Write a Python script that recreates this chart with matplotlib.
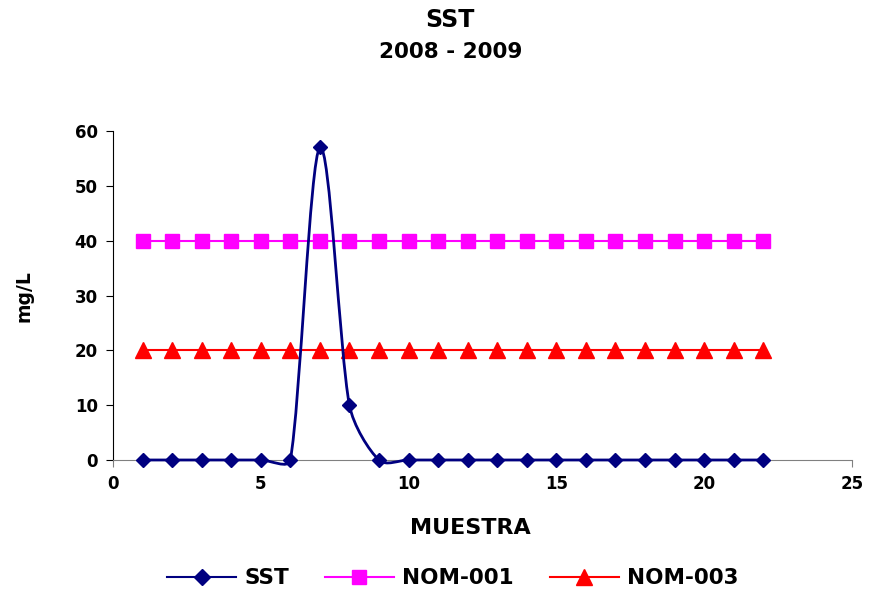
import matplotlib
matplotlib.use("Agg")
import matplotlib.pyplot as plt
import numpy as np
from matplotlib.path import Path
from matplotlib.patches import PathPatch
from matplotlib.lines import Line2D

plt.rcParams['font.family'] = ['DejaVu Sans']
plt.rcParams['font.weight'] = 'bold'

muestra = list(range(1, 23))
sst = [0, 0, 0, 0, 0, 0, 57, 10, 0, 0, 0, 0, 0, 0, 0, 0, 0, 0, 0, 0, 0, 0]
nom_001 = [40] * 22
nom_003 = [20] * 22


def smooth_path(ax, x, y):
    # Excel-like smoothed line, computed in display space: bezier handles are
    # 1/6 of the neighbour span, capped at 1/3 of the segment length
    trans = ax.transData
    pts = trans.transform(np.column_stack([x, y]).astype(float))
    n = len(pts)
    verts = [pts[0]]
    codes = [Path.MOVETO]
    for i in range(n - 1):
        p0 = pts[max(i - 1, 0)]
        p1 = pts[i]
        p2 = pts[i + 1]
        p3 = pts[min(i + 2, n - 1)]
        seg = np.hypot(*(p2 - p1))
        t1 = (p2 - p0) / 6.0
        t2 = (p3 - p1) / 6.0
        for t in (t1, t2):
            m = np.hypot(*t)
            if m > seg / 3.0:
                t *= (seg / 3.0) / m
        verts += [p1 + t1, p2 - t2, p2]
        codes += [Path.CURVE4] * 3
    verts = trans.inverted().transform(np.array(verts))
    return Path(verts, codes)


fig = plt.figure(figsize=(8.71, 5.95), dpi=100)
ax = fig.add_axes([0.1297, 0.2269, 0.8483, 0.5529])

ax.set_xlim(0, 25)
ax.set_ylim(0, 60)

navy = '#000080'
ax.plot(muestra, nom_001, color='#ff00ff', lw=1.5, marker='s', ms=9.5, zorder=3, clip_on=False)
ax.plot(muestra, nom_003, color='#ff0000', lw=1.5, marker='^', ms=12, zorder=3, clip_on=False)
ax.add_patch(PathPatch(smooth_path(ax, muestra, sst), facecolor='none',
                       edgecolor=navy, lw=2, zorder=4, clip_on=False))
ax.plot(muestra, sst, ls='none', color=navy, marker='D', ms=7.5, zorder=5, clip_on=False)

ax.set_xticks(range(0, 26, 5))
ax.set_yticks(range(0, 61, 10))
ax.spines['top'].set_visible(False)
ax.spines['right'].set_visible(False)
ax.spines['bottom'].set_color('#808080')
ax.spines['left'].set_color('black')
ax.tick_params(axis='both', direction='out', length=5, labelsize=12, pad=6)
ax.tick_params(axis='x', color='#808080', labelcolor='black')
for lbl in ax.get_xticklabels() + ax.get_yticklabels():
    lbl.set_fontweight('bold')

fig.text(0.517, 0.966, 'SST', ha='center', va='center', fontsize=17, fontweight='bold')
fig.text(0.517, 0.912, '2008 - 2009', ha='center', va='center', fontsize=15.5, fontweight='bold')
fig.text(0.540, 0.112, 'MUESTRA', ha='center', va='center', fontsize=16, fontweight='bold')
fig.text(0.027, 0.503, 'mg/L', ha='center', va='center', rotation=90, fontsize=13.5, fontweight='bold')

handles = [
    Line2D([], [], color=navy, lw=1.5, marker='D', ms=8),
    Line2D([], [], color='#ff00ff', lw=1.5, marker='s', ms=9.5),
    Line2D([], [], color='#ff0000', lw=1.5, marker='^', ms=12),
]
fig.legend(handles, ['SST', 'NOM-001', 'NOM-003'], loc='center', bbox_to_anchor=(0.52, 0.028),
           ncol=3, frameon=False, fontsize=15.5, handlelength=3.2, columnspacing=1.65,
           handletextpad=0.4)

fig.savefig('out.png', dpi=100)
